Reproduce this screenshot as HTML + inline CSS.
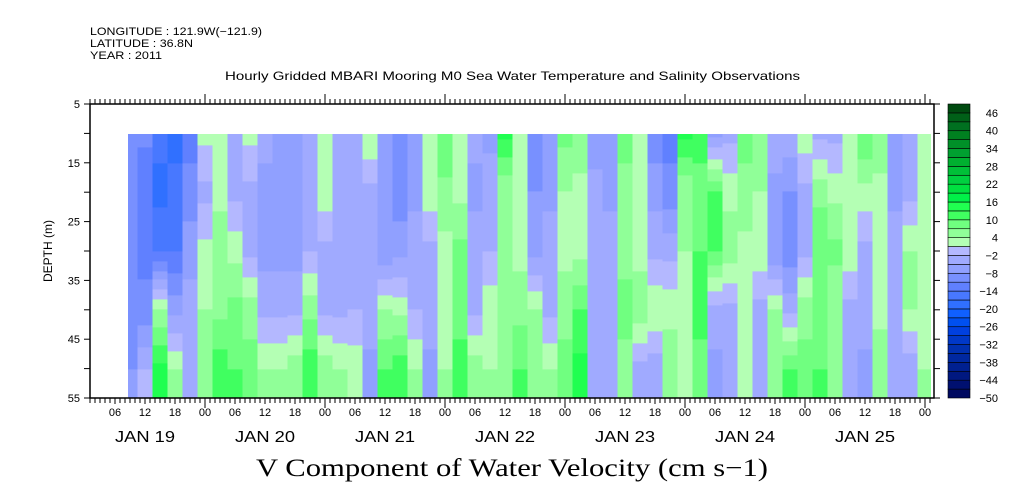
<!DOCTYPE html>
<html><head><meta charset="utf-8"><style>
body{margin:0;background:#fff;width:1009px;height:504px;overflow:hidden}
svg{display:block;font-family:"Liberation Sans",sans-serif}
</style></head><body>
<svg id="chart" width="1009" height="504" viewBox="0 0 1009 504">
<text x="90" y="35" font-size="11" textLength="172" lengthAdjust="spacingAndGlyphs">LONGITUDE : 121.9W(−121.9)</text>
<text x="90" y="47" font-size="11" textLength="103" lengthAdjust="spacingAndGlyphs">LATITUDE : 36.8N</text>
<text x="90" y="59" font-size="11" textLength="72" lengthAdjust="spacingAndGlyphs">YEAR : 2011</text>
<text x="225" y="80" font-size="12" textLength="575" lengthAdjust="spacingAndGlyphs">Hourly Gridded MBARI Mooring M0 Sea Water Temperature and Salinity Observations</text>
<defs><clipPath id="hc"><rect x="128" y="134" width="803" height="264"/></clipPath></defs>
<g id="heat" clip-path="url(#hc)"></g>
<g id="axes"></g>
<g id="cbar"></g>
<text x="52" y="251" font-size="12" text-anchor="middle" transform="rotate(-90 52 251)">DEPTH (m)</text>
<text x="256" y="476" font-size="25" textLength="512" lengthAdjust="spacingAndGlyphs" font-family="'Liberation Serif',serif">V Component of Water Velocity (cm s−1)</text>
</svg>
<script>
// hours since Jan 19 00:00
const hours=[9,12,15,18,21,24,27,30,33,36,39,42,45,48,51,54,57,60,63,66,69,72,75,78,81,84,87,90,93,96,99,102,105,108,111,114,117,120,123,126,129,132,135,138,141,144,147,150,153,156,159,162,165,168];
const depths=[10,20,30,40,50,55];
const v10=[-8,-10,-16,-18,-12,2,3,-4,2,-4,-6,-6,-3,2,-3,-3,4,-8,-10,-6,4,10,4,-4,-6,14,3,-10,-6,8,6,-8,-6,10,3,-10,-12,14,12,-6,-3,8,4,-3,-3,3,-3,-3,3,10,6,-6,-4,4];
const v20=[-10,-14,-18,-16,-10,-3,3,-3,-3,-6,-8,-8,-3,3,-3,-3,-3,-6,-10,-6,3,6,3,-6,-3,4,4,-8,-6,4,3,-3,-6,4,3,-6,-10,4,8,10,3,6,4,-6,-8,-3,6,3,3,3,3,-6,-3,3];
const v30=[-10,-12,-14,-14,-6,2,6,3,-3,-6,-6,-6,-2,-3,-3,-3,-3,-8,-6,-3,-3,3,8,-3,-2,4,3,-6,-3,3,3,-3,-3,6,3,-3,-3,4,10,10,6,3,3,-8,-10,-3,10,8,3,-3,4,-3,4,3];
const v40=[-10,-10,4,-6,-4,4,6,8,6,-3,-3,-3,6,-3,-3,-2,-3,4,3,-2,-3,3,8,-3,3,6,6,4,-3,6,10,-3,-3,8,6,4,3,3,12,-3,-3,4,-3,4,-3,6,8,4,-3,-3,3,-3,4,3];
const v50=[-8,-2,14,4,-3,4,12,10,8,4,4,6,12,6,4,3,-6,10,12,4,-6,4,12,6,4,4,10,6,4,8,14,-3,-3,6,-3,-4,6,3,8,-6,-3,3,-3,6,10,8,10,6,-3,-6,6,-3,-4,4];
const v55=v50;
const cbTicks=[46,40,34,28,22,16,10,4,-2,-8,-14,-20,-26,-32,-38,-44,-50];
const palette=["#000a60","#001070","#001880","#002090","#0028a0","#0030b0","#0038c8","#0040e0","#0050f0","#1060ff","#3070ff","#4878ff","#6080ff","#7890ff","#90a0ff","#a0aaff","#b4b8ff","#b4ffb4","#90ff98","#70ff80","#40ff60","#20ff50","#00f048","#00e040","#00d040","#00c038","#00b030","#00a030","#009028","#008020","#007020","#006018","#004a10"];
const NS="http://www.w3.org/2000/svg";
const X0=85, PX_H=5, Y5=104, PX_M=(398-104)/50;
const xs=h=>X0+h*PX_H, ys=d=>Y5+(d-5)*PX_M;
const vmin=-50, step=3;
const color=v=>palette[Math.max(0,Math.min(palette.length-1,Math.floor((v-vmin)/step)))];
const cols=[v10,v20,v30,v40,v50,v55];
function mk(tag,attrs,parent){const e=document.createElementNS(NS,tag);for(const k in attrs)e.setAttribute(k,attrs[k]);parent.appendChild(e);return e;}
const heat=document.getElementById('heat');
hours.forEach((h,i)=>{
  const x1=xs(h-1.5), x2=xs(h+1.5);
  for(let y=ys(10);y<ys(55);y+=2){
    const d=5+(y+1-Y5)/PX_M;
    let j=0;while(j<depths.length-2&&d>depths[j+1])j++;
    const t=Math.max(0,Math.min(1,(d-depths[j])/(depths[j+1]-depths[j])));
    const v=cols[j][i]*(1-t)+cols[j+1][i]*t;
    const r=mk('rect',{x:x1,y:y,width:x2-x1+0.5,height:2.5,fill:color(v)},heat);
    
    
  }
});
const ax=document.getElementById('axes');
mk('rect',{x:90,y:104,width:844,height:294,fill:'none',stroke:'#000','stroke-width':1.5},ax);
for(let h=1;h<=169;h++){
  const x=xs(h), day=h%24===0, six=h%6===0;
  mk('line',{x1:x,y1:104,x2:x,y2:day?94:99,stroke:'#000','stroke-width':1},ax);
  mk('line',{x1:x,y1:398,x2:x,y2:day?408:(six?404:403),stroke:'#000','stroke-width':1},ax);
  if(six){const t=mk('text',{x:x,y:416,'font-size':11,'text-anchor':'middle'},ax);t.textContent=String(h%24).padStart(2,'0');
    }
}
for(let d=0;d<7;d++){const t=mk('text',{x:xs(d*24+12)-30,y:442,'font-size':16,textLength:60,lengthAdjust:'spacingAndGlyphs'},ax);t.textContent='JAN '+(19+d);
  }
for(let d=5;d<=55;d+=5){const y=ys(d);
  mk('line',{x1:90,y1:y,x2:84,y2:y,stroke:'#000'},ax);
  mk('line',{x1:934,y1:y,x2:940,y2:y,stroke:'#000'},ax);
  if(d%10===5){const t=mk('text',{x:80,y:y+4,'font-size':11,'text-anchor':'end'},ax);t.textContent=d;
    }}
const cb=document.getElementById('cbar');
const cy=v=>398-(v-vmin)/99*294;
palette.forEach((c,i)=>{const v=vmin+i*step;
  const r=mk('rect',{x:948,y:cy(v+step),width:22,height:cy(v)-cy(v+step),fill:c,stroke:'#000','stroke-width':0.6},cb);
  });
cbTicks.forEach(v=>{const t=mk('text',{x:998,y:cy(v)+4,'font-size':11,'text-anchor':'end'},cb);t.textContent=String(v).replace('-','−');
  });
</script>
</body></html>
